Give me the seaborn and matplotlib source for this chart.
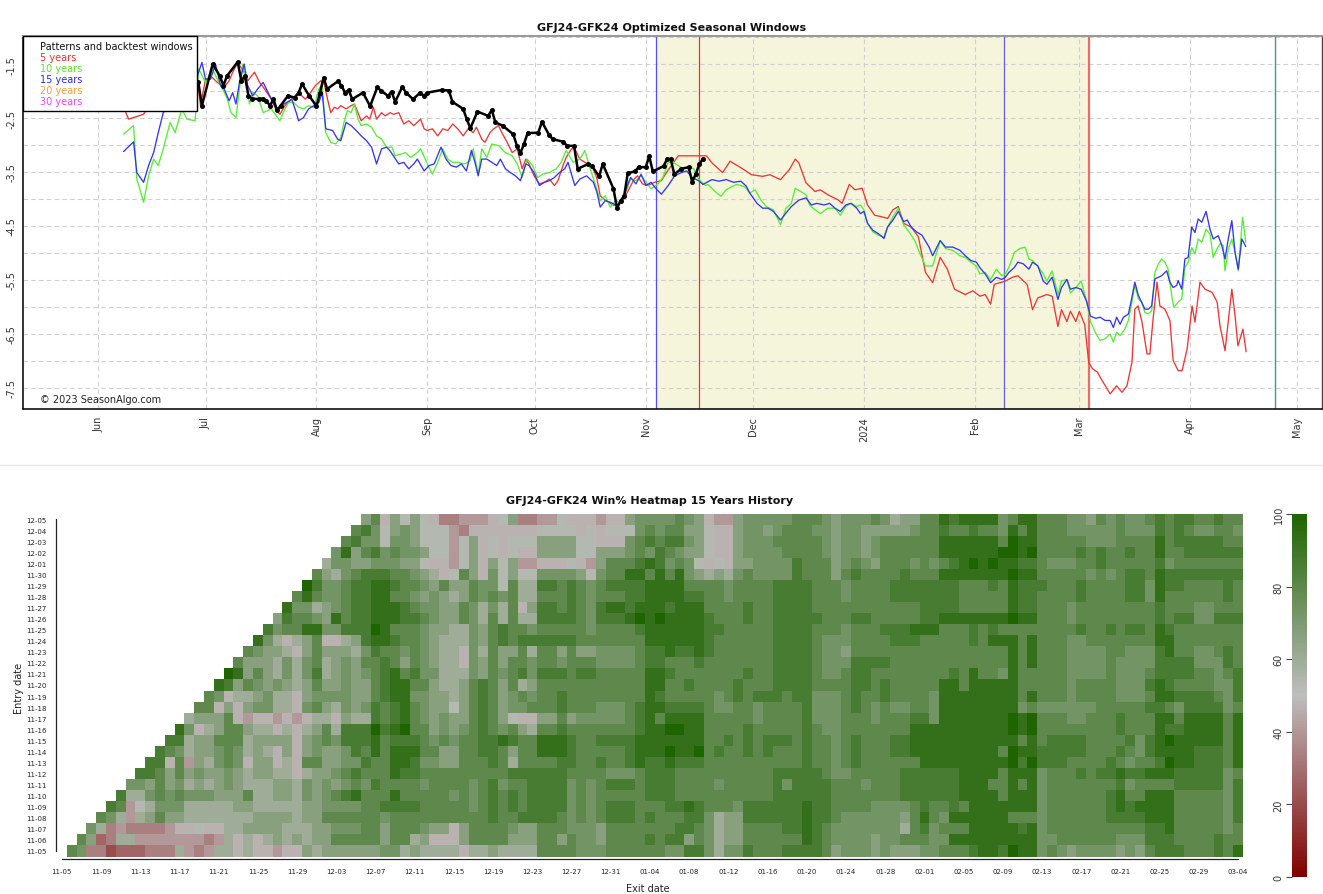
import numpy as np
import pandas as pd
import matplotlib
matplotlib.use('Agg')
import matplotlib.pyplot as plt
from matplotlib.colors import LinearSegmentedColormap
from matplotlib.patches import Rectangle
from matplotlib.lines import Line2D
import seaborn as sns

sns.set_style('white')
plt.rcParams['font.family'] = ['DejaVu Sans']

# ---------------- top chart data (days after 2023-06-01, spread value) ----------------
red_day = [7.5, 8.5, 12.7, 15.9, 20.1, 24.3, 27.7,
           28.6, 30.0, 31.9, 33.3, 35.2, 36.6, 37.6, 39.0, 40.8, 41.8, 43.7, 45.1, 46.5, 48.4, 49.8, 50.8, 52.2, 54.1,
           56.0, 57.9, 59.3, 60.7, 62.2, 63.1, 64.1, 65.0, 66.0, 66.9, 67.8, 69.3, 70.7, 71.6, 72.6, 73.5, 75.0, 75.9,
           76.9, 77.8, 79.2, 80.2, 81.6, 82.5, 84.0, 85.4, 86.8, 88.2, 90.1, 91.1, 92.0, 93.4, 94.9, 96.3, 97.7, 99.1,
           100.5, 102.0, 103.4, 104.8, 105.7, 107.2, 108.1, 109.5, 110.5, 111.9, 112.8, 114.3, 115.7, 117.1, 118.5,
           119.5, 120.4, 121.8, 123.3, 124.7, 126.1, 127.5, 128.5, 129.9, 130.8, 132.3, 133.2, 134.6, 136.0, 137.5,
           138.4, 139.4, 140.3, 141.3, 142.7, 144.1, 145.5, 146.9, 148.4, 149.8, 150.7, 152.1, 153.6, 155.5, 157.4,
           158.8, 160.2, 162.1, 164.9,
           170.0, 171.5, 174.5, 176.6, 179.6, 182.6, 185.7, 187.7, 190.7, 193.2, 194.8, 195.8, 197.8, 200.3, 201.8,
           203.9, 206.9, 207.9, 209.9, 211.5, 213.5, 215.0, 217.0, 219.0, 220.6, 222.1, 223.6, 225.1, 227.2, 229.2,
           231.2, 233.2, 235.3, 237.3, 239.3, 242.3, 244.4, 246.4, 247.9, 249.4, 250.4, 253.5, 255.5, 257.0, 259.6,
           261.1, 262.6, 265.1, 266.6, 268.2, 269.2, 270.7, 271.7, 273.2, 274.2, 275.7, 276.8, 277.8, 279.3,
           280.0, 282.8, 284.6, 286.1, 287.5, 288.9, 289.7, 290.6, 291.7, 293.1, 293.9, 294.8, 295.9, 296.7, 298.1,
           299.5, 300.4, 301.8, 302.9, 304.3, 305.7, 306.5, 307.9, 309.3, 311.3, 312.7, 313.5, 314.9, 316.8, 317.7,
           318.5, 319.9, 320.8]
red_val = [-2.36, -2.52, -2.43, -2.10, -1.95, -1.90, -1.75,
           -2.27, -1.78, -1.75, -1.84, -1.93, -1.81, -1.65, -1.47, -1.65, -1.81, -1.65, -1.84, -1.96, -2.15, -2.36,
           -2.43, -2.27, -2.15, -2.03, -2.15, -2.03, -1.90, -1.81, -1.84, -2.15, -2.40, -2.30, -2.33, -2.27, -2.33,
           -2.27, -2.24, -2.40, -2.55, -2.46, -2.52, -2.30, -2.52, -2.40, -2.46, -2.40, -2.43, -2.40, -2.61, -2.55,
           -2.64, -2.52, -2.70, -2.73, -2.70, -2.83, -2.70, -2.73, -2.61, -2.70, -2.83, -2.70, -2.77, -2.67, -2.89,
           -2.95, -2.77, -2.70, -2.64, -2.77, -2.95, -3.14, -3.07, -3.44, -3.26, -3.35, -3.57, -3.72, -3.69, -3.63,
           -3.75, -3.66, -3.38, -3.23, -3.07, -3.07, -3.26, -3.32, -3.38, -3.44, -3.63, -3.94, -4.00, -4.06, -4.12,
           -4.09, -4.00, -3.81, -3.63, -3.57, -3.72, -3.75, -3.69, -3.66, -3.51, -3.38, -3.20, -3.20,
           -3.20, -3.33, -3.51, -3.30, -3.42, -3.55, -3.58, -3.55, -3.64, -3.45, -3.26, -3.33, -3.70, -3.86, -3.83,
           -3.92, -4.02, -4.08, -3.73, -3.83, -3.80, -4.11, -4.30, -4.33, -4.36, -4.20, -4.14, -4.45, -4.52, -4.70,
           -5.36, -5.55, -5.08, -5.30, -5.67, -5.77, -5.70, -5.80, -5.77, -5.95, -5.58, -5.52, -5.45, -5.42, -5.58,
           -6.05, -5.83, -5.77, -5.80, -6.36, -6.05, -6.27, -6.08, -6.27, -6.08, -6.33, -7.02, -7.14, -7.21,
           -7.30, -7.61, -7.46, -7.58, -7.46, -7.02, -6.04, -5.98, -6.28, -6.87, -6.87, -6.22, -5.54, -5.98, -6.04,
           -6.25, -6.99, -7.18, -7.18, -6.78, -5.98, -6.28, -5.54, -5.67, -5.73, -5.91, -6.35, -6.81, -5.67, -6.16,
           -6.72, -6.41, -6.83]

green_day = [7.1, 9.9, 10.8, 12.7, 14.1, 15.5, 16.8, 18.2, 20.1, 21.5, 23.4, 24.8, 27.1,
             28.1, 30.0, 31.9, 33.3, 35.2, 36.1, 37.1, 38.5, 39.5, 40.4, 41.3, 42.3, 43.2, 44.6, 46.1, 48.4, 49.8,
             50.8, 51.7, 53.2, 54.6, 56.0, 57.4, 58.8, 60.3, 61.7, 62.6, 63.6, 65.0, 66.4, 67.8, 68.8, 69.7, 70.7,
             71.6, 72.6, 73.5, 75.0, 76.4, 77.8, 79.2, 80.6, 82.1, 83.0, 84.4, 85.9, 87.3, 89.2, 90.1, 92.0, 93.4,
             94.9, 96.3, 97.7, 99.1, 100.5, 102.4, 103.9, 104.8, 106.2, 107.2, 108.6, 110.0, 111.9, 113.8, 115.7,
             117.1, 118.5, 119.9, 121.4, 122.8, 124.2, 126.1, 128.0, 129.4, 130.8, 132.7, 134.6, 136.0, 137.5,
             138.9, 140.3, 141.7, 143.1, 144.6, 146.0, 147.4, 148.8, 150.3, 151.7, 153.1, 154.5, 156.4, 157.8,
             159.3, 160.7, 162.1, 163.5, 164.9, 166.4, 167.8, 169.7,
             170.4, 172.4, 174.0, 175.5, 177.1, 178.5, 180.6, 182.1, 183.6, 185.2, 186.7, 188.7, 190.7, 192.2,
             193.7, 194.8, 196.3, 197.8, 198.8, 200.3, 201.8, 203.9, 205.9, 207.4, 208.9, 210.4, 212.0, 213.0,
             214.0, 215.0, 216.5, 218.0, 219.6, 220.6, 222.1, 223.6, 225.1, 226.6, 228.2, 229.7, 231.2, 233.2,
             235.3, 236.8, 238.8, 240.8, 242.3, 243.9, 245.4, 246.4, 247.9, 249.4, 251.0, 252.5, 253.5, 254.5,
             256.0, 257.5, 259.0, 260.1, 261.1, 262.6, 264.1, 265.1, 266.6, 268.2, 269.2, 270.7, 271.7, 273.2,
             274.7, 276.2, 277.3, 278.8,
             280.0, 281.4, 282.8, 283.7, 284.6, 285.6, 286.9, 287.9, 288.8, 289.7, 290.7, 291.6, 292.5, 293.5,
             294.4, 295.3, 296.3, 297.2, 298.1, 299.0, 300.0, 300.6, 301.8, 302.8, 303.7, 304.6, 305.6, 306.5,
             307.4, 308.4, 309.6, 310.7, 311.6, 312.6, 313.5, 314.4, 314.9, 315.8, 316.8, 317.7, 318.6, 319.8,
             320.7]
green_val = [-2.80, -2.64, -3.63, -4.06, -3.57, -3.26, -3.38, -3.07, -2.58, -2.77, -2.33, -2.52, -2.55,
             -1.59, -1.84, -1.59, -1.78, -2.02, -2.15, -2.40, -2.49, -1.96, -1.50, -1.84, -2.24, -2.02, -2.09,
             -2.40, -2.33, -2.46, -2.55, -2.40, -2.21, -2.21, -2.30, -2.33, -2.27, -2.30, -1.96, -1.87, -2.77,
             -2.95, -2.98, -2.86, -2.55, -2.36, -2.40, -2.24, -2.52, -2.64, -2.61, -2.67, -2.83, -2.89, -3.04,
             -3.04, -3.20, -3.17, -3.14, -3.23, -3.14, -3.07, -3.35, -3.54, -3.32, -3.07, -3.26, -3.32, -3.32,
             -3.35, -3.29, -3.07, -3.54, -3.07, -3.23, -2.98, -3.01, -3.14, -3.20, -3.35, -3.60, -3.26, -3.38,
             -3.60, -3.54, -3.51, -3.44, -3.32, -3.10, -3.32, -3.26, -3.10, -3.44, -3.72, -4.03, -3.94, -4.15,
             -4.03, -4.06, -3.88, -3.63, -3.66, -3.57, -3.69, -3.81, -3.72, -3.60, -3.32, -3.32, -3.38, -3.44,
             -3.41, -3.44, -3.63, -3.75,
             -3.73, -3.86, -3.95, -3.83, -3.77, -3.73, -3.77, -3.89, -3.83, -4.02, -4.14, -4.20, -4.48, -4.17,
             -4.08, -3.80, -3.86, -3.92, -4.11, -4.20, -4.27, -4.17, -4.17, -4.30, -4.14, -4.08, -4.14, -4.11,
             -4.20, -4.45, -4.61, -4.67, -4.70, -4.52, -4.33, -4.17, -4.48, -4.61, -4.77, -5.02, -5.24, -5.24,
             -4.77, -4.92, -4.95, -5.05, -5.08, -5.17, -5.24, -5.39, -5.36, -5.49, -5.30, -5.42, -5.39, -5.27,
             -4.99, -4.92, -4.89, -5.11, -5.14, -5.24, -5.39, -5.52, -5.33, -5.77, -5.52, -5.49, -5.74, -5.64,
             -5.52, -5.89, -6.27, -6.49,
             -6.62, -6.59, -6.50, -6.65, -6.47, -6.53, -6.41, -6.25, -5.94, -5.60, -5.85, -5.91, -6.10, -6.13,
             -6.07, -5.36, -5.20, -5.11, -5.17, -5.30, -5.79, -6.01, -5.91, -5.85, -5.27, -5.17, -4.90, -5.02,
             -4.74, -4.80, -4.56, -4.65, -5.08, -4.93, -4.83, -4.86, -5.33, -4.93, -4.74, -4.99, -5.33, -4.34,
             -4.80]

blue_day = [7.1, 9.9, 10.8, 12.7, 14.1, 15.5, 16.8, 18.2, 20.1, 22.9, 24.8, 27.1,
            29.0, 30.0, 31.4, 32.8, 34.2, 35.2, 36.6, 37.6, 38.5, 39.5, 40.8, 41.8, 43.2, 44.6, 46.1, 48.4, 49.8,
            51.3, 52.7, 54.1, 55.5, 56.0, 57.4, 58.8, 60.3, 61.7, 62.6, 63.6, 65.5, 66.9, 67.8, 69.3, 70.7, 72.1,
            73.5, 75.0, 76.4, 77.8, 79.2, 80.6, 81.6, 82.5, 84.0, 85.4, 86.8, 88.2, 89.2, 91.1, 92.5, 93.9, 95.8,
            97.2, 98.6, 100.1, 101.5, 102.9, 104.3, 105.3, 106.2, 107.2, 108.6, 110.0, 111.4, 112.4, 113.8, 115.2,
            116.6, 118.0, 119.5, 120.4, 121.8, 123.3, 124.7, 126.1, 127.5, 128.9, 130.4, 131.3, 133.2, 134.6,
            136.5, 138.4, 139.4, 140.3, 141.7, 143.1, 145.0, 146.5, 147.9, 148.8, 150.3, 151.7, 153.1, 154.5,
            155.9, 157.4, 159.3, 161.1, 163.0, 164.5, 165.9, 167.8,
            169.0, 171.5, 173.5, 175.5, 177.6, 179.6, 181.1, 182.1, 184.1, 185.7, 187.2, 188.7, 190.7, 192.2,
            193.7, 195.8, 197.8, 199.3, 200.8, 202.9, 204.4, 205.9, 207.4, 208.9, 210.4, 212.0, 213.0, 214.0,
            215.0, 216.5, 218.0, 219.6, 220.6, 222.1, 223.6, 225.1, 226.1, 227.2, 228.7, 230.2, 232.2, 233.2,
            235.3, 236.8, 238.8, 240.8, 242.3, 243.9, 245.4, 246.4, 247.9, 249.4, 251.0, 252.5, 253.5, 254.5,
            256.0, 257.0, 258.5, 260.1, 261.1, 262.6, 264.1, 265.1, 266.6, 268.2, 269.2, 270.7, 271.7, 273.2,
            274.7, 276.2, 277.3, 278.8,
            280.0, 281.4, 282.8, 283.7, 284.6, 285.6, 286.5, 287.9, 288.8, 289.7, 290.7, 291.6, 292.5, 293.5,
            294.4, 295.3, 296.3, 297.2, 298.6, 299.5, 300.4, 301.4, 301.8, 302.8, 303.7, 304.6, 305.6, 306.5,
            307.4, 308.4, 309.6, 310.7, 311.6, 313.0, 314.0, 314.9, 315.8, 316.8, 317.7, 318.6, 319.6, 320.7]
blue_val = [-3.12, -2.94, -3.51, -3.69, -3.38, -3.14, -2.77, -2.40, -2.27, -2.09, -2.02, -1.84,
            -1.47, -1.78, -1.78, -1.50, -1.90, -1.96, -2.18, -2.03, -2.24, -1.84, -1.50, -1.90, -2.09, -1.96,
            -1.84, -2.15, -2.33, -2.27, -2.21, -2.15, -2.43, -2.55, -2.49, -2.33, -2.27, -2.21, -2.03, -2.70,
            -2.73, -2.89, -2.92, -2.58, -2.64, -2.73, -2.83, -2.92, -3.04, -3.35, -3.07, -3.04, -3.11, -3.20,
            -3.35, -3.32, -3.44, -3.35, -3.26, -3.48, -3.38, -3.35, -3.04, -3.26, -3.38, -3.41, -3.35, -3.48,
            -3.10, -3.32, -3.57, -3.26, -3.26, -3.32, -3.38, -3.26, -3.44, -3.51, -3.57, -3.66, -3.35, -3.38,
            -3.51, -3.75, -3.69, -3.66, -3.60, -3.51, -3.44, -3.32, -3.75, -3.63, -3.57, -3.69, -3.88, -4.15,
            -4.03, -4.06, -4.12, -4.03, -3.75, -3.60, -3.72, -3.54, -3.75, -3.69, -3.81, -3.91, -3.75, -3.57,
            -3.51, -3.48, -3.60, -3.66,
            -3.73, -3.64, -3.67, -3.64, -3.69, -3.67, -3.76, -3.89, -4.08, -4.17, -4.17, -4.23, -4.39, -4.26,
            -4.14, -4.02, -3.98, -4.11, -4.08, -4.11, -4.08, -4.17, -4.23, -4.11, -4.08, -4.17, -4.27, -4.23,
            -4.45, -4.58, -4.64, -4.73, -4.52, -4.39, -4.23, -4.42, -4.39, -4.52, -4.61, -4.67, -4.89, -5.05,
            -4.77, -4.89, -4.89, -4.95, -5.05, -5.14, -5.17, -5.27, -5.39, -5.55, -5.45, -5.49, -5.45, -5.36,
            -5.27, -5.17, -5.20, -5.30, -5.17, -5.24, -5.52, -5.58, -5.45, -5.86, -5.64, -5.49, -5.67, -5.64,
            -5.67, -5.89, -6.17, -6.21,
            -6.19, -6.25, -6.25, -6.38, -6.19, -6.32, -6.19, -6.13, -5.85, -5.54, -5.79, -5.91, -6.04, -6.04,
            -5.98, -5.48, -5.45, -5.42, -5.33, -5.54, -5.64, -5.60, -5.51, -5.67, -5.11, -5.08, -4.52, -4.62,
            -4.37, -4.43, -4.23, -4.56, -4.74, -4.68, -4.86, -5.11, -4.74, -4.40, -4.99, -5.30, -4.74, -4.88]

# current contract GFJ24-GFK24 (days after 2023-06-01)
now_day = [28, 29, 32, 34, 35, 36, 39, 40, 41, 42, 43, 45, 46, 47, 48, 49, 50, 51, 53, 55, 56, 57, 59, 61,
           62, 63, 64, 67, 68, 69, 70, 71, 74, 76, 78, 79, 81, 82, 83, 85, 86, 88, 90, 91, 92, 96, 98, 99,
           102, 103, 104, 106, 109, 110, 111, 113, 116, 117, 118, 119, 120, 123, 124, 126, 127, 130, 131,
           133, 134, 137, 138, 140, 141, 144, 145, 146, 147, 148, 150, 151, 153, 154, 155, 158, 159, 160,
           161, 163, 165, 166, 167, 168, 169]
now_val = [-1.84, -2.27, -1.50, -1.72, -1.90, -1.72, -1.46, -1.81, -1.72, -2.09,
           -2.14, -2.15, -2.14, -2.18, -2.27, -2.15, -2.36, -2.27, -2.09, -2.12,
           -2.03, -1.87, -2.09, -2.28, -2.03, -1.75, -1.96, -1.82, -1.90, -2.03,
           -1.98, -2.15, -2.03, -2.28, -1.93, -1.99, -2.09, -2.01, -2.20, -1.92,
           -2.03, -2.15, -2.03, -2.09, -2.03, -1.98, -1.99, -2.20, -2.33, -2.52,
           -2.69, -2.38, -2.46, -2.35, -2.58, -2.64, -2.80, -3.01, -3.15, -2.98,
           -2.78, -2.77, -2.57, -2.81, -2.89, -2.94, -3.01, -3.02, -3.44, -3.35,
           -3.39, -3.58, -3.35, -3.81, -4.17, -4.03, -3.94, -3.52, -3.49, -3.41,
           -3.41, -3.21, -3.49, -3.39, -3.26, -3.26, -3.54, -3.44, -3.41, -3.68,
           -3.54, -3.35, -3.26]

window_entry = ['2023-11-04', '2023-11-16']
window_exit = ['2024-02-09', '2024-03-04']
expiry_day = '2024-04-25'

month_ticks = pd.date_range('2023-06-01', '2024-05-01', freq='MS')
month_labels = ['Jun', 'Jul', 'Aug', 'Sep', 'Oct', 'Nov', 'Dec', '2024', 'Feb', 'Mar', 'Apr', 'May']
ytick_major = [-1.5, -2.5, -3.5, -4.5, -5.5, -6.5, -7.5]
ytick_minor = [-1.0, -2.0, -3.0, -4.0, -5.0, -6.0, -7.0]

legend_items = [('5 years', '#e8302c'), ('10 years', '#66dd33'), ('15 years', '#2a2ae0'),
                ('20 years', '#f0a030'), ('30 years', '#ee44ee')]

# ---------------- heatmap data: wins out of 15 (hex digit), '.' = no trade ----------------
# rows: entry 11-05 .. 12-05, columns: exit 11-05 .. 03-04
win_rows = [
    ".CB5534445559656997977677A9AAAA" "AABB9A9999799A9999CCCCBBBCCCCCC" "BBDDB9BBDCCCDDDDCABBBABAAABBCC" "CDEEDFEEBCBABBBBABACDDDCCCDCE",
    "..CA459966666665697979A9A9AACCC" "CCACC9A777ACCCCAAACCACBBACCCCDC" "DDACB9AACCCCCCEDCBBBBABBCCCBBE" "EEEEEEEEBBCCCCCCBBBDDDCCCCDCC",
    "...B956555567787799AAAA999AABBB" "CCACCCBAA7ACCCCBAACCCBBBACCCCCC" "CDDCB9AACCCCDDEDCBBBBBBB9CDBCC" "CEEEEEDEBCCCCCCCCCCDDECCCCCBC",
    "....CB969ACAA9999999AAAA9AACCCC" "CCBCCCCCCCCCCDCCDDDDCBCBCDDDCDC" "CCDDB9AADDDDDDEDDCBBBBBBACECBE" "EEEEECCCBCCCCCCDDDDEEECCCCCBD",
    ".....DC689BBB99999AA99999AABBBB" "CCDDDDCCCCCBCDCDCDDDDBCBCDDDCCC" "DDEDCCCBDDDDDDEDDCCCCBBBBCDCCD" "CEEEEEEEBCCCCCCDEDEEEECCCCCBD",
    "......D99BCBCBBBAAAC99AA9BABCDE" "CCCECCCCCBCBCDCDCDDDDBCBCCCCCDD" "DCCCCCCCCCCDDDDDDCCCCCCCDDDDDD" "EEEECEEEBCCCCCCDECCEEECCCCCBD",
    ".......BBACAB9A9ABA999AA9BABABC" "BDCCCCBCCCCBCDBCCDDDDBCBCDDDCDD" "DCCCCBCCCCCDBDDDDCCCBCCCDDDDDD" "EEECCECEBCCCCCCCDBCCCCDDDDDBD",
    "........DDCACABAABA9AA9979AABCD" "CCCEDDCCCCCCCCCDDDDDDCCCCBBBCDD" "DCCCCCCCCCCDDDDDCBBCCCCCDDDDDD" "EEEECEEEBCCCDCDDEDDEEEDDDDDBC",
    ".........DD7C6A9BCB7AA797CCAABB" "DCCEEDBBAACCCDC9CCCCDDCCDCCDEDD" "EDDDCCCCCCCCCCDCCBCDCCCCCCEEEE" "EEEEEFDFDDDCCCCDCBCCDFEEDDDCE",
    "..........DCB9AABCB9A97A7ABAABD" "CECEEECCAACCDDCACCEEEDCCCCCDEEE" "FEEFCDCCDCDCCCDCCBCDCCCDDEEEEE" "EEEECFEEDDDDDCCCDCBDEEEEDDDCE",
    "...........DD9AACCC9AAAA7ABCBDD" "DECDDDCBCBCCDDEDCCEEEDCCDDDDEEE" "EEEECCDCDCDDDCDCCBCDCCCDDEEEEE" "EEEEEECECDDDDCCCCDBDEFEEEEECE",
    "............EB79ACCA997979AC9DD" "DFDEFCCABABCDCBCA9CCDCCCCCCCDEE" "FFEECCCCDCCCCCDCBBCCCCCCCEEEEE" "EEEEEFEFCCCCCCCCDCCCEDDEEEECE",
    ".............9AAAC76776767997A9" "9DCDECBABAACDCA877AACABBBBBCDEC" "EEEECCCCCBCCCCDBBBCCCBCCCDDBEE" "EEEEEFEFCCCBBCCCDCCCEECEEEECE",
    "..............CC7A7ABB997BCA9BA" "BDCDECBAA8ACDCABBCCCDCCCBBBCDEE" "DDDDCBBCCBCCCCDBBBCDCBCBBCCBEE" "EEEEEEBCBBBBBBCCCCCDDCBDDDDBC",
    "...............CB799AB997ABBBBA" "ACDEEBBAA9ACDCABCBCCDCCCCCCCCED" "CCCCCBCDCDDDCDDBBBCDCCDCCCCBEE" "EEEEEECECCCBCCCCBBBCEEDDDDCBD",
    "................EDACBABA9ACAABA" "ACDEECCA99ACDCAC9ACCCCCCCCCCCEE" "CCDCCCCDCCCDDDDCCCCDDCDCCCCCEE" "CEEEEECCCCCBCCCCBBBDEDCCCCBBD",
    ".................FEACA9B9BD9ABA" "BCDECDBB999BACBCDBDDDCDDCCCCCEE" "DCCCCCCCDCCDDDDCBBCDDCCCCCCCCD" "CECCBECCCCCBBBBCBBBCDDDDCCBCD",
    "..................CAAA9B9BC9ABA" "CCDCACBA997BACACCBCCBCCCBBBBCDD" "CCCDCCCCCCCDDDDCBBBDDDDCCCCCCC" "CCCCCECECCCBBBBCBBBBDDDDBBBDC",
    "...................CBAA97ACAAA9" "BDCCBCBA997B9CAAC9CCACAABBBBCDD" "EDDEDCCCCCCDDDDCBBACCCCCCCCCCC" "CCCCCECECCCBBBBCCBBBDECCBBCDC",
    "....................EB979AC779A" "DEEDCCBA999BACDCDDDDDDCCCCCCCEE" "EEEEDCCCCCCDDDDCBBBCCCCDDDCCCC" "CDCEEECECCCBBCCCCCCCEECCCCCCC",
    ".....................DBCCEEBBDD" "DFECCCBAA99BACDCCBCCCCCBCCCCDEE" "EEEEDDCCCCCDDDDCCCBCCCDDDEEECC" "CDCDCCCCCCCCDCCDCDDCEDCCCCCCC",
    "......................ADCCBAECD" "DEEEDDCBAACB9C9C99DDDDCBDDDEFEF" "EEEEDCCCDCCDDDDDCCCDDCCCCCDDEE" "EEEEEFEECCCBCCCCCCCCDCDDBBDDD",
    ".......................EBB9ABCD" "DEEEDCBBAACB9B9C7ADDCDCBDEEDEEE" "DEEECCCCDCCDDDDCCCCCCCCCCCDDDD" "CCCCCEDDCCCBCCCCCCCCDCCCBBCCC",
    "........................CECBBCD" "DEECCBABA9ACBCBC99CCCDCBCCCDDEE" "EEDDCCBCCCCDDDDCCCBCCCCDDDDDDD" "CCCCCEDDCCCCDCCCCDDBECCCCCCDC",
    ".........................FDBBCD" "DEEDCCBACAACBB8C99DDCDCBCDDDDEE" "EECCCCBCCCCDDDDCCCBCCCCDDDDDDD" "CCCDCEDDDCCCDCCCCDDBEDDCCCCDC",
    "..........................CA9BC" "DDDCCBA978CA7B8A88BBBBA8BCCEECE" "CEBA9A9BCBBBBDCCCACDCCCCDCCCEE" "EEEEEFEECCCCCBCBCDDCEDDDDDDDD",
    "...........................9BBA" "ABBBAA87768A7A8A66777876ACCCDED" "BCB8787AABBBBDCCCABCBACCCBCBCD" "EFEFEEDDCBBBCCDCCCCCDBCCCCCCC",
    "............................BEA" "CDBCBBA8868A787877AAAA88AAABCBD" "CBAA877ABBBBCCCCBABBABCCCCCCEE" "EEEEFFEFCCCCDCDCCDCCECCDDDDDD",
    ".............................CD" "BB8BBA88868A787888AAAA88777BCDC" "DDBA877ABBBCCCCCBABBABCCCCCCEE" "EEEECFEECCCCCBBBCCCCECDDDDDCC",
    "..............................C" "DB8ABA8886577777778888787888BCB" "CCAA877ABBABCCCBBABBAAAAABCCDC" "CDCCBECECCCBBBBBCBBBDCDCBBCCB",
    "..............................." "AC7A8A875566678A55668777677ABBB" "BCBA766ABBBBBCCCBABBBCB9AACCED" "EEEEBCEECCCBBACBCBBCDCDDCCDCC",
]
years_history = 15
entry_dates = pd.date_range('2023-11-05', '2023-12-05', freq='D')
exit_dates = pd.date_range('2023-11-05', '2024-03-04', freq='D')
cbar_ticks = [0, 20, 40, 60, 80, 100]

# ---------------- figure ----------------
W, H = 1323, 895
fig = plt.figure(figsize=(W / 100, H / 100), dpi=100)
start = pd.Timestamp('2023-06-01')


def to_dates(days):
    return start + pd.to_timedelta(np.asarray(days, dtype=float), unit='D')


ax1 = fig.add_axes([23 / W, 1 - 410 / H, 1299 / W, 373 / H])

series = [(red_day, red_val, '#ee3535'), (green_day, green_val, '#55ee33'), (blue_day, blue_val, '#3535f0')]
for days, vals, col in series:
    n = min(len(days), len(vals))
    sns.lineplot(x=to_dates(days[:n]), y=vals[:n], ax=ax1, color=col, lw=0.95,
                 estimator=None, zorder=3)

n = min(len(now_day), len(now_val))
sns.lineplot(x=to_dates(now_day[:n]), y=now_val[:n], ax=ax1, color='black', lw=1.8,
             marker='o', markersize=3.6, markeredgewidth=0, estimator=None, zorder=5)

ax1.axvspan(pd.Timestamp(window_entry[0]), pd.Timestamp(window_exit[1]), color='#f5f5dc', zorder=0, lw=0)
ax1.axvline(pd.Timestamp(window_entry[0]), color='#5050ee', lw=0.9, zorder=2)
ax1.axvline(pd.Timestamp(window_entry[1]), color='#ee3030', lw=0.9, zorder=2)
ax1.axvline(pd.Timestamp(window_exit[0]), color='#6060e0', lw=0.9, zorder=2)
ax1.axvline(pd.Timestamp(window_exit[1]), color='#ee6a6a', lw=1.6, zorder=2)
ax1.axvline(pd.Timestamp(expiry_day), color='#3a9a9a', lw=1.0, zorder=2)

ax1.set_xlim(pd.Timestamp('2023-05-11'), pd.Timestamp('2024-05-08'))
ax1.set_ylim(-7.89, -0.98)
ax1.set_xticks(month_ticks)
ax1.set_xticklabels(month_labels, rotation=90, ha='center', va='top')
ax1.set_yticks(ytick_major)
ax1.set_yticks(ytick_minor, minor=True)
ax1.set_yticklabels([f'{v:.1f}' for v in ytick_major], rotation=90, va='center')
ax1.set_axisbelow(True)
ax1.grid(axis='y', which='both', color='#cfcfcf', lw=0.8, ls=(0, (4, 3)))
ax1.grid(axis='x', which='major', color='#cfcfcf', lw=0.8, ls=(0, (4, 3)))
ax1.tick_params(axis='both', which='both', length=0, labelsize=7, labelcolor='#333333')
ax1.tick_params(axis='x', pad=5)
ax1.tick_params(axis='y', pad=5)
ax1.set_xlabel('')
ax1.set_ylabel('')
for side in ['left', 'bottom']:
    ax1.spines[side].set_color('#111111')
    ax1.spines[side].set_linewidth(1.2)
ax1.spines['top'].set_color('#999999')
ax1.spines['top'].set_linewidth(1.5)
ax1.spines['right'].set_color('#444444')
ax1.spines['right'].set_linewidth(1.0)

# legend box
box_w = 174 / 1299
box_h = 75 / 373
ax1.add_patch(Rectangle((0, 1 - box_h), box_w, box_h, transform=ax1.transAxes,
                        facecolor='white', edgecolor='black', lw=1, zorder=8, clip_on=False))
ax1.text(17 / 1299, 1 - 10 / 373, 'Patterns and backtest windows', transform=ax1.transAxes,
         fontsize=7, va='center', ha='left', color='#111111', zorder=9)
for i, (lab, col) in enumerate(legend_items):
    ax1.text(17 / 1299, 1 - (21 + 11 * i) / 373, lab, transform=ax1.transAxes,
             fontsize=7, va='center', ha='left', color=col, zorder=9)
ax1.text(17 / 1299, 1 - 363 / 373, '\u00a9 2023 SeasonAlgo.com', transform=ax1.transAxes,
         fontsize=7, va='center', ha='left', color='#222222', zorder=9)

fig.text(672 / W, 1 - 28 / H, 'GFJ24-GFK24 Optimized Seasonal Windows', ha='center', va='center',
         fontsize=8, fontweight='bold', color='#111111')

fig.add_artist(Line2D([0, 1], [1 - 466 / H, 1 - 466 / H], color='#e8e8e8', lw=1))

# ---------------- heatmap ----------------
grid = np.full((len(entry_dates), len(exit_dates)), np.nan)
for j, row in enumerate(win_rows):
    for i, ch in enumerate(row[:len(exit_dates)]):
        if ch != '.':
            grid[j, i] = int(ch, 16) / years_history * 100

heat = pd.DataFrame(grid[::-1],
                    index=[d.strftime('%m-%d') for d in entry_dates[::-1]],
                    columns=[d.strftime('%m-%d') for d in exit_dates])

cmap = LinearSegmentedColormap.from_list('winpct', ['#800000', '#bebebe', '#1e6400'])

ax2 = fig.add_axes([57 / W, 1 - 857.5 / H, 1186 / W, 343 / H])
cax = fig.add_axes([1292 / W, 1 - 878 / H, 15 / W, 363 / H])
sns.heatmap(heat, ax=ax2, cmap=cmap, vmin=0, vmax=100, cbar_ax=cax,
            xticklabels=False, yticklabels=False, linewidths=0)

ncol = len(exit_dates)
nrow = len(entry_dates)
ax2.set_xticks(np.arange(0.5, ncol, 4))
ax2.set_xticklabels([d.strftime('%m-%d') for d in exit_dates[::4]], rotation=0)
ax2.set_xticks(np.arange(2.5, ncol, 4), minor=True)
ax2.set_yticks(np.arange(0.5, nrow, 1))
ax2.set_yticklabels(list(heat.index), rotation=0)
ax2.tick_params(axis='both', which='both', length=3.5, width=0.8, color='#222222',
                labelsize=5, labelcolor='#222222', pad=3)
for lab in ax2.get_xticklabels() + ax2.get_yticklabels():
    lab.set_fontweight('bold')
ax2.spines['left'].set_visible(True)
ax2.spines['bottom'].set_visible(True)
ax2.spines['left'].set_bounds(0.5, nrow - 0.5)
ax2.spines['bottom'].set_bounds(0.5, ncol - 0.5)
ax2.spines['left'].set_position(('outward', 1))
ax2.spines['bottom'].set_position(('outward', 2))
for side in ['left', 'bottom']:
    ax2.spines[side].set_color('#222222')
    ax2.spines[side].set_linewidth(0.9)
ax2.set_xlabel('')
ax2.set_ylabel('')

cbar = ax2.collections[0].colorbar
cbar.set_ticks(cbar_ticks)
cbar.outline.set_visible(False)
cax.yaxis.set_ticks_position('left')
cax.tick_params(length=4, width=0.8, color='#444444', labelsize=7, labelcolor='#333333', pad=2)
for lab in cax.get_yticklabels():
    lab.set_rotation(90)
    lab.set_va('center')

fig.text(650 / W, 1 - 501 / H, 'GFJ24-GFK24 Win% Heatmap 15 Years History', ha='center', va='center',
         fontsize=8, fontweight='bold', color='#111111')
fig.text(19 / W, 1 - 688 / H, 'Entry date', rotation=90, ha='center', va='center', fontsize=7,
         color='#222222')
fig.text(648 / W, 1 - 894 / H, 'Exit date', ha='center', va='bottom', fontsize=7, color='#222222')

fig.savefig('out.png', dpi=100)
